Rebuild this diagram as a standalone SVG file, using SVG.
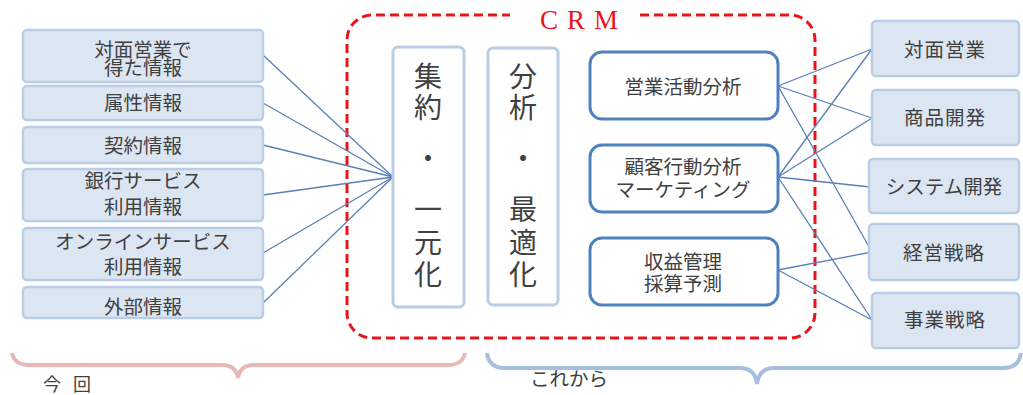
<svg xmlns="http://www.w3.org/2000/svg" width="1023" height="395" viewBox="0 0 1023 395">
<style>
text{font-family:"Noto Sans CJK JP","Noto Sans CJK SC",sans-serif;fill:#404040;text-anchor:middle}
.src rect{fill:#dce6f2;stroke:#b9cde5;stroke-width:2.5}
.dst rect{fill:#dce6f2;stroke:#b9cde5;stroke-width:2.5}
.col rect{fill:#fff;stroke:#b9cde5;stroke-width:3}
.fn rect{fill:#fff;stroke:#4f81bd;stroke-width:3}
.s20{font-size:19.5px}
.s28{font-size:28px}
#connectors line{stroke:#5a7fb8;stroke-width:1.3}
</style>
<path d="M640,15 H790 A25,25 0 0 1 815,40 V313 A25,25 0 0 1 790,338 H372 A25,25 0 0 1 347,313 V40 A25,25 0 0 1 372,15 H510" fill="none" stroke="#e8141c" stroke-width="3" stroke-dasharray="9,5"/>
<text x="540" y="29" style="font-family:'Liberation Serif',serif;font-size:27px;fill:#e8141c;text-anchor:start;letter-spacing:9px">CRM</text>
<g id="connectors">
<line x1="263" y1="55" x2="393" y2="177"/>
<line x1="263" y1="103" x2="393" y2="177"/>
<line x1="263" y1="145" x2="393" y2="177"/>
<line x1="263" y1="195" x2="393" y2="177"/>
<line x1="263" y1="253" x2="393" y2="177"/>
<line x1="263" y1="303" x2="393" y2="177"/>
<line x1="778" y1="86" x2="872" y2="49"/>
<line x1="778" y1="86" x2="872" y2="118"/>
<line x1="778" y1="86" x2="872" y2="252"/>
<line x1="778" y1="177" x2="872" y2="49"/>
<line x1="778" y1="177" x2="872" y2="118"/>
<line x1="778" y1="177" x2="870" y2="187"/>
<line x1="778" y1="177" x2="872" y2="320"/>
<line x1="778" y1="270" x2="872" y2="252"/>
<line x1="778" y1="270" x2="872" y2="320"/>
</g>
<g id="src1" class="src"><rect x="23" y="30" width="240" height="52" rx="4"/><text class="s20" x="143" y="57">対面営業で</text><text class="s20" x="143" y="75">得た情報</text></g>
<g id="src2" class="src"><rect x="23" y="86" width="240" height="34" rx="4"/><text class="s20" x="143" y="110">属性情報</text></g>
<g id="src3" class="src"><rect x="23" y="127" width="240" height="36" rx="4"/><text class="s20" x="143" y="153">契約情報</text></g>
<g id="src4" class="src"><rect x="23" y="169" width="240" height="52" rx="4"/><text class="s20" x="143" y="188">銀行サービス</text><text class="s20" x="143" y="214">利用情報</text></g>
<g id="src5" class="src"><rect x="23" y="228" width="240" height="52" rx="4"/><text class="s20" x="143" y="249">オンラインサービス</text><text class="s20" x="143" y="274">利用情報</text></g>
<g id="src6" class="src"><rect x="23" y="287" width="240" height="31" rx="4"/><text class="s20" x="143" y="314">外部情報</text></g>
<g id="shuyaku" class="col"><rect x="393" y="47" width="71" height="260" rx="5"/>
<text class="s28" x="428" y="87">集</text><text class="s28" x="428" y="118">約</text><text class="s28" x="428" y="169">・</text><text class="s28" x="428" y="220">一</text><text class="s28" x="428" y="253">元</text><text class="s28" x="428" y="285">化</text></g>
<g id="bunseki" class="col"><rect x="488" y="48" width="70" height="257" rx="5"/>
<text class="s28" x="523" y="87">分</text><text class="s28" x="523" y="118">析</text><text class="s28" x="523" y="169">・</text><text class="s28" x="523" y="220">最</text><text class="s28" x="523" y="253">適</text><text class="s28" x="523" y="285">化</text></g>
<g id="fnA" class="fn"><rect x="590" y="52" width="188" height="67" rx="12"/><text class="s20" x="683" y="94">営業活動分析</text></g>
<g id="fnB" class="fn"><rect x="590" y="145" width="188" height="67" rx="12"/><text class="s20" x="683" y="174">顧客行動分析</text><text class="s20" x="683" y="197">マーケティング</text></g>
<g id="fnC" class="fn"><rect x="590" y="238" width="188" height="67" rx="12"/><text class="s20" x="683" y="269">収益管理</text><text class="s20" x="683" y="291">採算予測</text></g>
<g id="dst1" class="dst"><rect x="872" y="21" width="147" height="55" rx="4"/><text class="s20" x="945" y="57" style="letter-spacing:1px">対面営業</text></g>
<g id="dst2" class="dst"><rect x="872" y="90" width="147" height="55" rx="4"/><text class="s20" x="945" y="125" style="letter-spacing:1px">商品開発</text></g>
<g id="dst3" class="dst"><rect x="869" y="159" width="150" height="54" rx="4"/><text class="s20" x="944" y="194">システム開発</text></g>
<g id="dst4" class="dst"><rect x="869" y="224" width="150" height="56" rx="4"/><text class="s20" x="944" y="260" style="letter-spacing:1px">経営戦略</text></g>
<g id="dst5" class="dst"><rect x="872" y="293" width="147" height="55" rx="4"/><text class="s20" x="945" y="327" style="letter-spacing:1px">事業戦略</text></g>
<g id="brace-now">
<path d="M12,353 Q14,365 30,365 H222 Q236,365 238,378 Q240,365 254,365 H447 Q463,365 465,353" fill="none" stroke="#e6b9b8" stroke-width="4"/>
<text x="43" y="391" style="font-size:18px;text-anchor:start;letter-spacing:4px">今 回</text>
</g>
<g id="brace-future">
<path d="M487,353 Q489,368 505,368 H740 Q755,368 757,384 Q759,368 774,368 H1003 Q1019,368 1021,353" fill="none" stroke="#a6bfdd" stroke-width="4"/>
<text x="530" y="386" style="font-size:19.5px;text-anchor:start">これから</text>
</g>
</svg>
